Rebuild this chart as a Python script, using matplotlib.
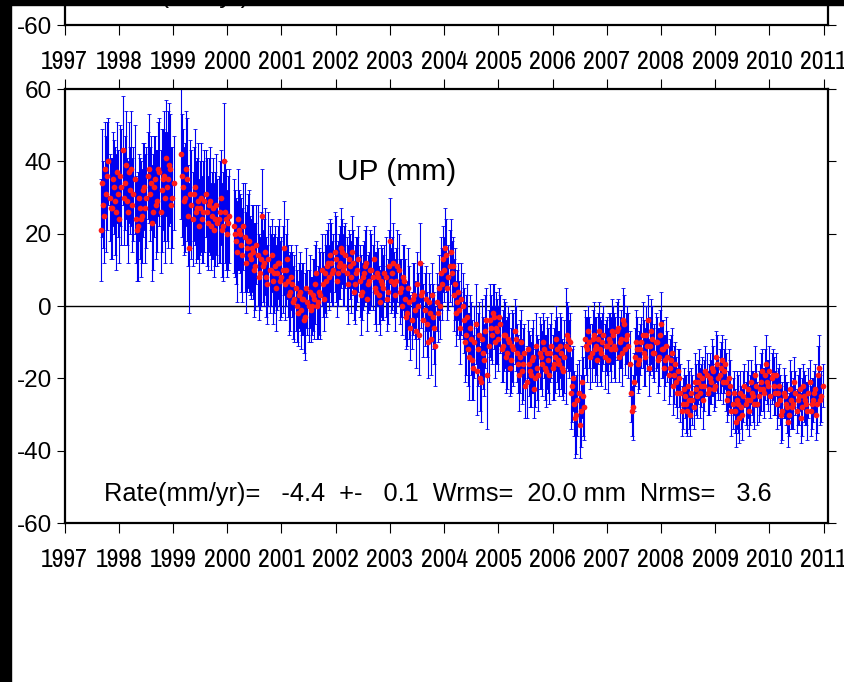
import numpy as np
import matplotlib.pyplot as plt
from matplotlib import font_manager
from matplotlib.patches import Rectangle

plt.rcParams['font.family'] = ['Liberation Sans', 'DejaVu Sans']
plt.rcParams['axes.unicode_minus'] = False

# narrow face for the year labels if one is installed, else plain and smaller
narrow = None
for f in font_manager.fontManager.ttflist:
    if 'Narrow' in f.name or 'Condensed' in f.name:
        narrow = f.name
        break
if narrow:
    xlab_font = dict(family=[narrow, 'Liberation Sans'], size=18.5)
else:
    xlab_font = dict(family=['Liberation Sans', 'DejaVu Sans'], size=14.2)

# three continuous pieces of the UP series; two interleaved lists per piece,
# the second one sampled half a step later
seg_starts = [1997.67, 1999.14, 2000.12]
step = 0.04
offset = 0.02

up_a = [21, 28, 38, 36, 30, 27, 33, 26, 31, 36, 43, 34, 29, 37, 38, 31, 24, 22, 27, 25,
        33, 30, 38, 34, 26, 35, 29, 37, 32, 36, 41, 35, 38, 30]
err_a = [14, 12, 13, 15, 12, 14, 13, 16, 12, 14, 15, 13, 12, 14, 16, 13, 12, 15, 14, 13,
         12, 14, 15, 13, 16, 12, 14, 15, 17, 18, 16, 19, 15, 14]
up_a2 = [34, 25, 31, 40, 27, 35, 29, 37, 24, 33, 30, 39, 26, 32, 28, 35, 21, 30, 24, 32,
         27, 36, 31, 23, 33, 28, 38, 26, 35, 30, 33, 39, 28, 34]
err_a2 = [15, 13, 16, 12, 14, 13, 15, 14, 12, 16, 13, 15, 14, 12, 13, 15, 14, 12, 16, 13,
          15, 12, 13, 16, 14, 15, 13, 17, 14, 18, 15, 17, 16, 13]

up_b = [42, 33, 30, 35, 16, 28, 31, 26, 29, 27, 24, 29, 26, 28, 22, 27, 24, 23, 26, 21,
        40, 24, 23]
err_b = [18, 16, 15, 17, 18, 15, 13, 14, 16, 13, 12, 14, 15, 13, 12, 14, 13, 12, 14, 13,
         16, 14, 13]
up_b2 = [36, 29, 38, 25, 31, 24, 33, 27, 22, 30, 26, 31, 23, 29, 25, 21, 28, 24, 30, 22,
         26, 20, 25]
err_b2 = [17, 15, 16, 14, 15, 13, 16, 14, 13, 15, 14, 12, 13, 15, 12, 13, 14, 12, 13, 15,
          14, 12, 13]

up_c = [
    # 2000.12 - 2001.08
    22, 18, 24, 20, 14, 19, 16, 18, 13, 15, 11, 14, 9, 25, 12, 8, 13, 10, 7, 11, 9, 12, 8, 16, 10,
    # 2001.12 - 2002.08
    7, 4, 6, 2, 0, 3, -1, 2, -3, 1, 4, 0, 2, 9, 1, 3, 6, 9, 11, 8, 12, 10, 13, 9, 12,
    # 2002.12 - 2003.08
    15, 11, 9, 13, 8, 12, 6, 10, 7, 4, 9, 12, 6, 10, 8, 5, 9, 3, 7, 5, 8, 4, 18, 9, 6,
    # 2003.12 - 2004.08
    7, 10, 5, 8, 2, -2, 1, -4, 3, -7, 0, 12, 4, -1, -5, 1, -9, -3, -11, -2, 0, 6, 10, 14, 8,
    # 2004.12 - 2005.08
    15, 11, 6, 1, -1, 2, -4, -8, -12, -6, -15, -10, -18, -8, -21, -13, -7, -19, -4, -8,
    -3, -6, -9, -5, -11,
    # 2005.12 - 2006.08
    -8, -13, -10, -15, -12, -9, -16, -14, -18, -13, -21, -16, -19, -14, -20, -17, -13, -16,
    -12, -18, -15, -13, -17, -14, -12,
    # 2006.12 - 2007.08
    -16, -13, -18, -11, -9, -10, -22, -27, -30, -24, -29, -25, -9, -12, -10, -13, -8, -11,
    -9, -12, -10, -14, -11, -9, -12,
    # 2007.12 - 2008.08
    -8, -12, -6, -10, -13, -5, -9, -11, -24, -28, -14, -12, -15, -10, -13, -8, -4, -11,
    -9, -13, -10, -14, -5, -12, -15,
    # 2008.12 - 2009.08
    -14, -17, -13, -19, -21, -18, -24, -27, -25, -29, -26, -24, -28, -23, -21, -24, -20, -22,
    -19, -23, -21, -18, -22, -16, -19,
    # 2009.12 - 2010.08
    -15, -18, -21, -24, -22, -27, -29, -26, -31, -28, -25, -27, -23, -26, -24, -27, -22, -25,
    -21, -23, -19, -21, -18, -20, -22,
    # 2010.12 - 2010.96
    -19, -24, -26, -29, -25, -28, -30, -26, -27, -24, -26, -23, -28, -25, -27, -24, -29, -26,
    -23, -27, -17, -25,
]
err_c = [
    13, 12, 14, 11, 13, 15, 12, 14, 11, 13, 12, 14, 10, 13, 12, 11, 13, 10, 12, 11, 10, 12, 11, 13, 10,
    10, 11, 9, 12, 10, 9, 11, 10, 12, 9, 10, 8, 11, 9, 10, 12, 9, 11, 10, 9, 11, 10, 12, 9, 10,
    9, 11, 10, 8, 10, 9, 11, 9, 10, 8, 9, 10, 8, 11, 9, 10, 9, 8, 10, 9, 11, 9, 12, 10, 9,
    9, 10, 8, 9, 11, 9, 10, 8, 9, 10, 9, 11, 8, 10, 9, 8, 10, 9, 11, 8, 9, 10, 9, 10, 9,
    9, 8, 10, 9, 8, 10, 9, 11, 10, 9, 11, 10, 12, 9, 11, 10, 10, 15, 10, 8, 9, 10, 9, 8, 10,
    9, 10, 8, 9, 10, 9, 8, 10, 9, 8, 10, 9, 9, 10, 8, 9, 10, 9, 8, 10, 9, 8, 9, 10, 9,
    9, 10, 8, 16, 9, 8, 10, 9, 11, 9, 10, 11, 8, 9, 7, 8, 9, 8, 7, 9, 8, 9, 8, 7, 9,
    8, 9, 8, 7, 9, 8, 7, 9, 8, 9, 8, 9, 8, 7, 9, 8, 7, 8, 9, 8, 7, 8, 9, 8, 7,
    7, 8, 7, 8, 7, 6, 8, 7, 6, 7, 8, 7, 6, 7, 6, 7, 6, 7, 6, 7, 6, 7, 6, 8, 7,
    7, 6, 8, 6, 7, 7, 6, 8, 7, 6, 7, 6, 8, 7, 6, 7, 6, 7, 8, 6, 7, 6, 7, 7, 8,
    6, 7, 7, 8, 6, 7, 6, 8, 7, 6, 7, 6, 8, 7, 6, 7, 7, 6, 7, 8, 9, 7,
]
up_c2 = [
    # 2000.14 - 2001.10
    20, 15, 21, 17, 22, 12, 18, 14, 16, 10, 17, 8, 13, 11, 15, 6, 10, 14, 9, 5, 12, 7, 10, 6, 13,
    # 2001.14 - 2002.10
    3, 8, 1, 5, -2, 4, 2, -4, 5, 0, -1, 3, 6, 0, 4, 10, 2, 7, 12, 14, 9, 15, 7, 11, 16,
    # 2002.14 - 2003.10
    10, 14, 6, 11, 15, 4, 9, 13, 3, 8, 11, 2, 7, 10, 13, 4, 8, 1, 6, 9, 2, 11, 7, 12, 3,
    # 2003.14 - 2004.10
    11, 4, 0, 7, -3, 5, -6, 2, -1, 6, -8, 3, -4, 2, -10, -2, 3, -6, 1, 5, 9, 13, 16, 5, 11,
    # 2004.14 - 2005.10
    9, 3, -2, 4, -6, 0, -10, -3, -14, -9, -17, -5, -12, -20, -9, -15, -4, -11, -6, -2,
    -10, -7, -3, -12, -8,
    # 2005.14 - 2006.10
    -14, -9, -17, -11, -7, -13, -19, -10, -16, -22, -12, -18, -15, -23, -11, -19, -14, -10,
    -17, -13, -19, -11, -16, -9, -15,
    # 2006.14 - 2007.10
    -11, -17, -14, -8, -12, -24, -20, -31, -26, -33, -21, -28, -11, -7, -14, -9, -12, -15,
    -7, -13, -8, -11, -15, -10, -7,
    # 2007.14 - 2008.10
    -11, -7, -14, -9, -4, -12, -8, -16, -29, -21, -10, -16, -12, -8, -14, -11, -17, -7,
    -13, -10, -15, -8, -12, -17, -11,
    # 2008.14 - 2009.10
    -19, -15, -22, -16, -24, -20, -29, -23, -27, -22, -30, -26, -21, -25, -19, -22, -26, -18,
    -24, -20, -17, -23, -14, -20, -17,
    # 2009.14 - 2010.10
    -21, -16, -26, -20, -29, -24, -32, -27, -24, -30, -22, -26, -29, -21, -25, -19, -27, -23,
    -18, -24, -16, -22, -25, -19, -24,
    # 2010.14 - 2010.98
    -27, -22, -30, -24, -27, -32, -23, -28, -21, -29, -25, -31, -22, -26, -29, -21, -27, -24,
    -30, -19, -26, -22,
]
err_c2 = [
    12, 14, 11, 13, 12, 14, 13, 11, 12, 13, 11, 12, 13, 10, 12, 11, 12, 10, 11, 12, 10, 11, 12, 10, 11,
    11, 9, 10, 12, 9, 11, 10, 9, 11, 10, 9, 10, 11, 9, 12, 10, 9, 10, 11, 10, 9, 11, 10, 9, 11,
    10, 9, 11, 9, 10, 8, 10, 9, 11, 9, 10, 9, 8, 10, 9, 11, 8, 9, 10, 8, 9, 10, 9, 11, 10,
    10, 9, 8, 10, 9, 11, 9, 10, 8, 9, 11, 9, 10, 9, 10, 8, 9, 10, 8, 9, 10, 9, 11, 9, 10,
    9, 10, 9, 8, 10, 9, 11, 9, 12, 10, 9, 11, 10, 9, 11, 10, 9, 10, 9, 8, 10, 9, 8, 9, 10,
    10, 9, 8, 10, 9, 8, 10, 9, 10, 9, 8, 10, 9, 8, 9, 10, 9, 8, 9, 10, 8, 9, 10, 9, 8,
    9, 8, 10, 9, 8, 10, 9, 11, 10, 9, 10, 9, 8, 7, 9, 8, 9, 7, 8, 9, 8, 7, 9, 8, 9,
    9, 8, 7, 8, 9, 7, 8, 9, 7, 8, 9, 8, 7, 9, 8, 7, 8, 9, 7, 8, 9, 7, 8, 9, 8,
    8, 7, 8, 6, 7, 8, 7, 6, 8, 7, 6, 7, 8, 6, 7, 6, 8, 7, 6, 7, 8, 6, 7, 6, 7,
    6, 7, 6, 8, 7, 6, 7, 8, 6, 7, 6, 8, 7, 6, 7, 8, 6, 7, 6, 7, 8, 7, 6, 7, 6,
    7, 6, 8, 7, 6, 7, 8, 6, 7, 6, 8, 7, 6, 7, 8, 6, 7, 6, 7, 8, 7, 6,
]

years = list(range(1997, 2012))
yticks = [-60, -40, -20, 0, 20, 40, 60]
rate_text = "Rate(mm/yr)=   -4.4  +-   0.1  Wrms=  20.0 mm  Nrms=   3.6"

fig = plt.figure(figsize=(8.44, 6.82), dpi=100, facecolor='white')

def setup(ax):
    ax.set_xlim(1997, 2011.08)
    ax.set_ylim(-60, 60)
    ax.set_xticks(years)
    ax.set_xticklabels([str(y) for y in years], **xlab_font)
    ax.set_yticks(yticks)
    ax.tick_params(axis='x', direction='out', length=7, width=0.8, top=True, pad=11)
    ax.tick_params(axis='y', direction='out', length=6, width=0.8, right=True,
                   labelsize=17.5, pad=3)
    for s in ax.spines.values():
        s.set_linewidth(1.6)
    ax.axhline(0, color='black', lw=1.0, zorder=1)

# upper panel, only its bottom edge is on the page
ax_top = fig.add_axes([0.0765, 0.9633, 0.9045, 0.6364])
setup(ax_top)
ax_top.text(0.0555, 0.0668, "Rate(mm/yr)=", transform=ax_top.transAxes,
            ha='left', va='center', fontsize=18.5)

ax = fig.add_axes([0.0765, 0.2331, 0.9045, 0.6364])
setup(ax)
pieces = [(seg_starts[0], up_a, err_a, up_a2, err_a2),
          (seg_starts[1], up_b, err_b, up_b2, err_b2),
          (seg_starts[2], up_c, err_c, up_c2, err_c2)]
for start, v1, e1, v2, e2 in pieces:
    t1 = start + step * np.arange(len(v1))
    t2 = start + offset + step * np.arange(len(v2))
    for t, v, e in [(t1, v1, e1), (t2, v2, e2)]:
        ax.errorbar(t, v, yerr=e, fmt='none', ecolor='#0000f0', elinewidth=0.8,
                    capsize=1.2, capthick=0.6, zorder=2)
for start, v1, e1, v2, e2 in pieces:
    t1 = start + step * np.arange(len(v1))
    t2 = start + offset + step * np.arange(len(v2))
    for t, v in [(t1, v1), (t2, v2)]:
        ax.plot(t, v, 'o', color='#ff1a1a', ms=4.1, mec='none', zorder=3)

ax.text(0.4354, 0.809, "UP (mm)", transform=ax.transAxes, ha='center', va='center',
        fontsize=21.5)
ax.text(0.489, 0.0668, rate_text, transform=ax.transAxes, ha='center', va='center',
        fontsize=18.3)

# black borders of the scan
fig.add_artist(Rectangle((0, 0), 11 / 844, 1, transform=fig.transFigure,
                         color='black', zorder=10))
fig.add_artist(Rectangle((0, 1 - 5 / 682), 1, 5 / 682, transform=fig.transFigure,
                         color='black', zorder=10))

fig.savefig('out.png', dpi=100, facecolor='white')
